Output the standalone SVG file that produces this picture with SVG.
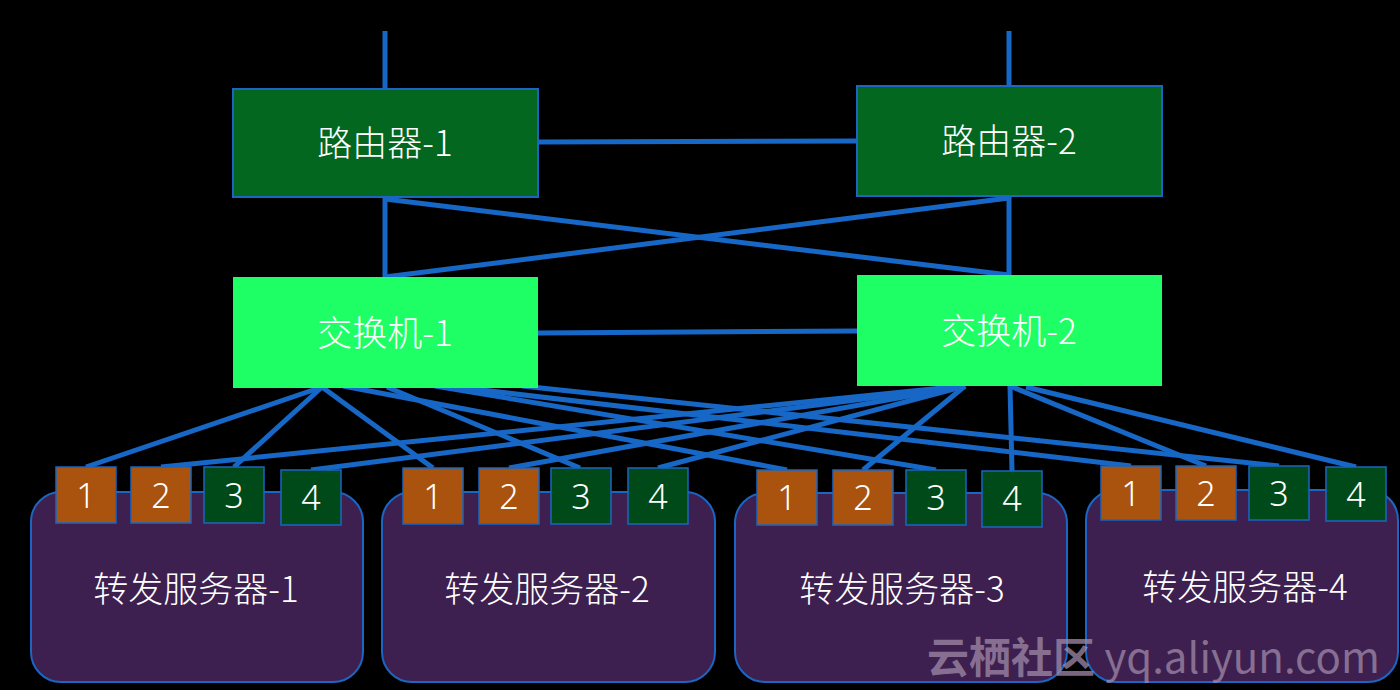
<svg xmlns="http://www.w3.org/2000/svg" width="1400" height="690" viewBox="0 0 1400 690">
<style>
.bg{fill:#000}
.router{fill:#03671f;stroke:#1a66c2;stroke-width:2}
.switch{fill:#1eff66}
.server{fill:#3e2050;stroke:#1a66c2;stroke-width:2}
.po{fill:#a9530f;stroke:#1a66c2;stroke-width:1.5}
.pg{fill:#004a1a;stroke:#1a66c2;stroke-width:1.5}
.lbl{font-family:"Noto Sans CJK SC","Noto Sans",sans-serif;font-weight:300;font-size:35px;fill:#fff;text-anchor:middle}
.num{font-family:"Noto Sans","Liberation Sans",sans-serif;font-weight:300;font-size:34px;fill:#fff;text-anchor:middle}
#links line{stroke:#1767c6;stroke-width:5;stroke-linecap:butt}
.wm{font-family:"Noto Sans CJK SC","Noto Sans",sans-serif;font-size:42px;fill:#a08aa8;fill-opacity:0.75}
</style>
<rect class="bg" x="0" y="0" width="1400" height="690"/>

<g id="server-1"><rect class="server" x="31" y="492" width="332" height="190" rx="30"/><text class="lbl" x="196" y="602">转发服务器-1</text></g>
<g id="server-2"><rect class="server" x="382" y="492" width="333" height="190" rx="30"/><text class="lbl" x="547" y="602">转发服务器-2</text></g>
<g id="server-3"><rect class="server" x="735" y="493" width="332" height="189" rx="30"/><text class="lbl" x="902" y="602">转发服务器-3</text></g>
<g id="server-4"><rect class="server" x="1086" y="490" width="312" height="192" rx="30"/><text class="lbl" x="1245" y="600">转发服务器-4</text></g>

<g id="links">
<line x1="385" y1="31" x2="385" y2="89"/>
<line x1="1009" y1="31" x2="1009" y2="86"/>
<line x1="538" y1="142" x2="857" y2="141"/>
<line x1="385" y1="197" x2="385" y2="277"/>
<line x1="1009" y1="196" x2="1009" y2="275"/>
<line x1="385" y1="199" x2="1009" y2="275"/>
<line x1="1009" y1="198" x2="385" y2="277"/>
<line x1="538" y1="333" x2="857" y2="331"/>
<line x1="322" y1="387" x2="86" y2="467"/>
<line x1="322" y1="387" x2="234" y2="467"/>
<line x1="322" y1="387" x2="433" y2="468"/>
<line x1="343" y1="386" x2="787" y2="470"/>
<line x1="387" y1="387" x2="580" y2="468"/>
<line x1="435" y1="386" x2="936" y2="470"/>
<line x1="447" y1="386" x2="1131" y2="466"/>
<line x1="522" y1="386" x2="1279" y2="466"/>
<line x1="962" y1="386" x2="161" y2="467"/>
<line x1="965" y1="386" x2="311" y2="470"/>
<line x1="965" y1="386" x2="509" y2="468"/>
<line x1="965" y1="386" x2="658" y2="468"/>
<line x1="965" y1="386" x2="863" y2="470"/>
<line x1="1010" y1="386" x2="1012" y2="471"/>
<line x1="1010" y1="386" x2="1206" y2="466"/>
<line x1="1026" y1="387" x2="1356" y2="467"/>
</g>

<g id="router-1"><rect class="router" x="233" y="89" width="305" height="108"/><text class="lbl" x="385" y="156">路由器-1</text></g>
<g id="router-2"><rect class="router" x="857" y="86" width="305" height="110"/><text class="lbl" x="1009" y="154">路由器-2</text></g>
<g id="switch-1"><rect class="switch" x="233" y="277" width="305" height="111"/><text class="lbl" x="385" y="346">交换机-1</text></g>
<g id="switch-2"><rect class="switch" x="857" y="275" width="305" height="111"/><text class="lbl" x="1009" y="344">交换机-2</text></g>

<g id="s1-ports">
<rect class="po" x="56" y="467" width="60" height="56"/><text class="num" x="86" y="508">1</text>
<rect class="po" x="131" y="467" width="60" height="56"/><text class="num" x="161" y="508">2</text>
<rect class="pg" x="204" y="467" width="60" height="56"/><text class="num" x="234" y="508">3</text>
<rect class="pg" x="281" y="470" width="60" height="55"/><text class="num" x="311" y="510">4</text>
</g>
<g id="s2-ports">
<rect class="po" x="403" y="468" width="60" height="56"/><text class="num" x="433" y="509">1</text>
<rect class="po" x="479" y="468" width="60" height="56"/><text class="num" x="509" y="509">2</text>
<rect class="pg" x="551" y="468" width="60" height="56"/><text class="num" x="581" y="509">3</text>
<rect class="pg" x="628" y="468" width="60" height="56"/><text class="num" x="658" y="509">4</text>
</g>
<g id="s3-ports">
<rect class="po" x="757" y="470" width="60" height="55"/><text class="num" x="787" y="510">1</text>
<rect class="po" x="833" y="470" width="60" height="55"/><text class="num" x="863" y="510">2</text>
<rect class="pg" x="906" y="470" width="60" height="55"/><text class="num" x="936" y="510">3</text>
<rect class="pg" x="982" y="471" width="60" height="56"/><text class="num" x="1012" y="511">4</text>
</g>
<g id="s4-ports">
<rect class="po" x="1101" y="466" width="60" height="54"/><text class="num" x="1131" y="506">1</text>
<rect class="po" x="1176" y="466" width="60" height="54"/><text class="num" x="1206" y="506">2</text>
<rect class="pg" x="1249" y="466" width="60" height="54"/><text class="num" x="1279" y="506">3</text>
<rect class="pg" x="1326" y="467" width="60" height="54"/><text class="num" x="1356" y="507">4</text>
</g>

<text class="wm" x="927" y="673"><tspan font-weight="bold">云栖社区</tspan> yq.aliyun.com</text>
</svg>
